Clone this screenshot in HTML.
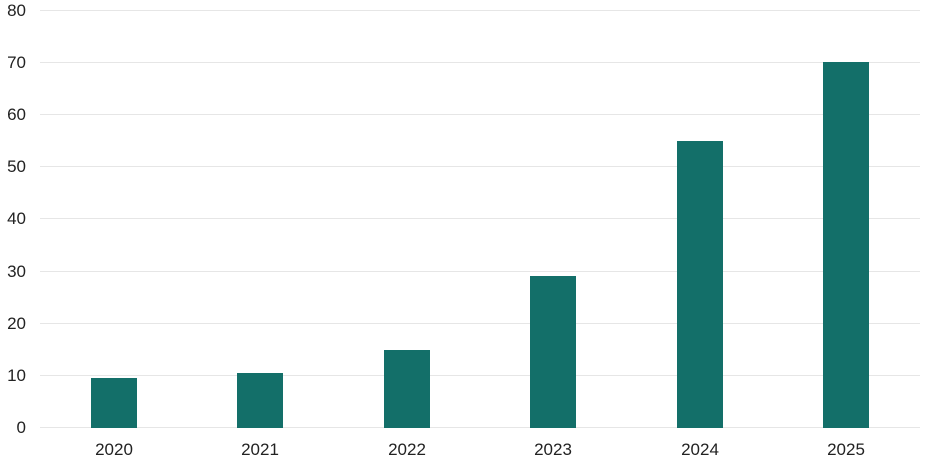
<!DOCTYPE html><html><head><style>body{margin:0;background:#fff}</style></head><body>
<svg width="928" height="462" xmlns="http://www.w3.org/2000/svg" font-family="Liberation Sans, Arial, sans-serif" font-size="17" fill="#222">
<g stroke="#e6e6e6" stroke-width="1">
<line x1="40" x2="920" y1="10.5" y2="10.5"/><line x1="40" x2="920" y1="62.5" y2="62.5"/><line x1="40" x2="920" y1="114.5" y2="114.5"/><line x1="40" x2="920" y1="166.5" y2="166.5"/><line x1="40" x2="920" y1="218.5" y2="218.5"/><line x1="40" x2="920" y1="271.5" y2="271.5"/><line x1="40" x2="920" y1="323.5" y2="323.5"/><line x1="40" x2="920" y1="375.5" y2="375.5"/><line x1="40" x2="920" y1="427.5" y2="427.5"/>
</g>
<g text-anchor="end">
<text x="26" y="16">80</text><text x="26" y="68">70</text><text x="26" y="120">60</text><text x="26" y="172">50</text><text x="26" y="224">40</text><text x="26" y="277">30</text><text x="26" y="329">20</text><text x="26" y="381">10</text><text x="26" y="433">0</text>
</g>
<g fill="#136F69">
<rect x="91" y="378" width="46" height="50"/><rect x="237" y="373" width="46" height="55"/><rect x="384" y="350" width="46" height="78"/><rect x="530" y="276" width="46" height="152"/><rect x="677" y="141" width="46" height="287"/><rect x="823" y="62" width="46" height="366"/>
</g>
<g text-anchor="middle">
<text x="114" y="455">2020</text><text x="260" y="455">2021</text><text x="407" y="455">2022</text><text x="553" y="455">2023</text><text x="700" y="455">2024</text><text x="846" y="455">2025</text>
</g>
</svg></body></html>
